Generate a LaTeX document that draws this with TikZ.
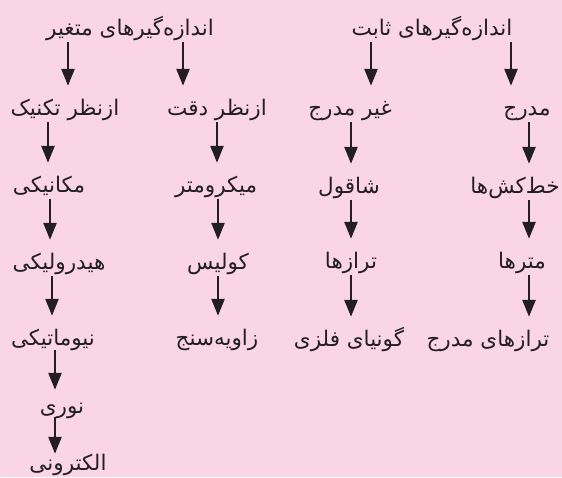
\documentclass[tikz,border=0pt]{standalone}
\usepackage{fontspec}
\usepackage{tikz}
\usetikzlibrary{arrows.meta}
\newfontfamily\persianfont[Script=Arabic]{DejaVu Sans}
\TeXXeTstate=1
\definecolor{bgpink}{RGB}{250,214,229}
\definecolor{inkgray}{RGB}{35,31,32}
\newcommand{\fa}[1]{\beginR #1\endR}

\begin{document}
\begin{tikzpicture}[
    x=1pt, y=-1pt, % پیکسل‌های تصویر
    font=\persianfont\fontsize{21.5}{24}\selectfont,
    lbl/.style={inner sep=0pt, text height=29pt, text depth=7pt, anchor=base, text=inkgray},
    arr/.style={inkgray, line width=2.6pt, -{Triangle[length=17pt,width=13pt]}}
    ]
    % 1. زمینه
    \fill[bgpink] (0,0) rectangle (562,477);
    \useasboundingbox (0,0) rectangle (562,477);

    % 2. سرشاخه‌ها
    \node[lbl] (topvar) at (130,35) {\fa{اندازه‌گیرهای متغیر}};
    \node[lbl] (topfix) at (432,35) {\fa{اندازه‌گیرهای ثابت}};

    % 3. ردیف دوم
    \node[lbl] (tek)  at (65,115)  {\fa{ازنظر تکنیک}};
    \node[lbl] (deq)  at (217,115) {\fa{ازنظر دقت}};
    \node[lbl] (gmo)  at (350,115) {\fa{غیر مدرج}};
    \node[lbl] (mod)  at (527,115) {\fa{مدرج}};

    % 4. ستون‌ها
    \node[lbl] (mek)  at (49,192)  {\fa{مکانیکی}};
    \node[lbl] (hyd)  at (59,269)  {\fa{هیدرولیکی}};
    \node[lbl] (niu)  at (53,345)  {\fa{نیوماتیکی}};
    \node[lbl] (nur)  at (62,413)  {\fa{نوری}};
    \node[lbl] (elc)  at (68,470)  {\fa{الکترونی}};

    \node[lbl] (mik)  at (216,192) {\fa{میکرومتر}};
    \node[lbl] (kol)  at (218,269) {\fa{کولیس}};
    \node[lbl] (zav)  at (217,345) {\fa{زاویه‌سنج}};

    \node[lbl] (sha)  at (349,193) {\fa{شاقول}};
    \node[lbl] (tar)  at (351,268) {\fa{ترازها}};
    \node[lbl] (gon)  at (349,346) {\fa{گونیای فلزی}};

    \node[lbl] (khat) at (515,193) {\fa{خط‌کش‌ها}};
    \node[lbl] (met)  at (522,268) {\fa{مترها}};
    \node[lbl] (tmo)  at (488,346) {\fa{ترازهای مدرج}};

    % 5. پیکان‌ها
    \foreach \x/\a/\b in {68/topvar/tek, 183/topvar/deq, 371/topfix/gmo, 511/topfix/mod,
                          48/tek/mek, 50/mek/hyd, 52/hyd/niu,
                          217/deq/mik, 218/mik/kol, 218/kol/zav,
                          351/gmo/sha, 351/sha/tar, 351/tar/gon,
                          529/mod/khat, 529/khat/met, 529/met/tmo} {
        \draw[arr] (\a.south -| \x,0) -- (\b.north -| \x,0);
    }
    \draw[arr, shorten <=-2pt, shorten >=-6pt] (niu.south -| 55,0) -- (nur.north -| 55,0);
    \draw[arr, shorten <=-3pt, shorten >=-13pt] (nur.south -| 55,0) -- (elc.north -| 55,0);

\end{tikzpicture}
\end{document}
